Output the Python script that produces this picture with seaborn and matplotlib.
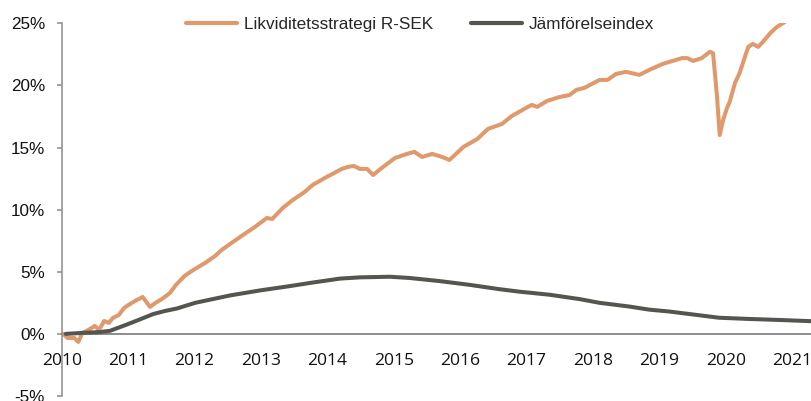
import matplotlib
matplotlib.use("Agg")
import matplotlib.pyplot as plt
import seaborn as sns
import pandas as pd
from matplotlib.ticker import FuncFormatter, FixedLocator

# ---- data (decimal years, percent) ----
fund_t = [2010.02, 2010.09, 2010.19, 2010.25, 2010.31, 2010.40, 2010.50, 2010.56, 2010.64, 2010.71,
          2010.77, 2010.86, 2010.94, 2011.03, 2011.13, 2011.22, 2011.33, 2011.41, 2011.51, 2011.63,
          2011.72, 2011.85, 2011.98, 2012.16, 2012.31, 2012.41, 2012.56, 2012.73, 2012.91, 2013.09,
          2013.17, 2013.33, 2013.48, 2013.66, 2013.78, 2013.99, 2014.22, 2014.31, 2014.40, 2014.49,
          2014.60, 2014.69, 2014.84, 2015.02, 2015.20, 2015.31, 2015.43, 2015.58, 2015.73, 2015.84,
          2016.05, 2016.26, 2016.42, 2016.63, 2016.78, 2017.02, 2017.08, 2017.16, 2017.31, 2017.50,
          2017.65, 2017.75, 2017.87, 2018.10, 2018.22, 2018.35, 2018.50, 2018.70, 2018.85, 2019.05,
          2019.20, 2019.34, 2019.42, 2019.51, 2019.64, 2019.76, 2019.81, 2019.87, 2019.91, 2019.96,
          2020.02, 2020.06, 2020.14, 2020.21, 2020.29, 2020.34, 2020.41, 2020.49, 2020.56, 2020.67,
          2020.77, 2020.86, 2020.97]
fund_v = [0.0, -0.33, -0.33, -0.65, 0.07, 0.31, 0.64, 0.31, 1.04, 0.88,
          1.28, 1.52, 2.09, 2.41, 2.73, 2.97, 2.17, 2.49, 2.81, 3.29,
          3.94, 4.66, 5.14, 5.71, 6.27, 6.76, 7.33, 7.96, 8.61, 9.33,
          9.25, 10.14, 10.78, 11.43, 11.99, 12.63, 13.28, 13.44, 13.52, 13.28,
          13.28, 12.79, 13.44, 14.16, 14.49, 14.65, 14.24, 14.49, 14.24, 14.00,
          15.05, 15.69, 16.50, 16.90, 17.54, 18.27, 18.43, 18.27, 18.75, 19.07,
          19.23, 19.64, 19.80, 20.44, 20.44, 20.93, 21.09, 20.85, 21.25, 21.73,
          21.97, 22.20, 22.20, 21.97, 22.20, 22.70, 22.60, 19.07, 16.00, 17.20,
          18.18, 18.67, 20.20, 21.00, 22.30, 23.10, 23.34, 23.10, 23.50, 24.20,
          24.70, 25.00, 25.40]

bench_t = [2010.06, 2010.28, 2010.58, 2010.73, 2010.98, 2011.10, 2011.38, 2011.56, 2011.74, 2012.01,
           2012.23, 2012.54, 2012.99, 2013.44, 2013.74, 2014.19, 2014.49, 2014.94, 2015.24, 2015.69,
           2016.14, 2016.59, 2016.89, 2017.35, 2017.80, 2018.10, 2018.55, 2018.85, 2019.15, 2019.60,
           2019.90, 2020.36, 2020.81, 2021.30]
bench_v = [0.0, 0.07, 0.15, 0.25, 0.75, 1.0, 1.6, 1.85, 2.05, 2.5,
           2.75, 3.1, 3.5, 3.85, 4.1, 4.45, 4.55, 4.6, 4.5, 4.25,
           3.95, 3.6, 3.4, 3.15, 2.8, 2.5, 2.2, 1.95, 1.8, 1.5,
           1.3, 1.2, 1.12, 1.02]

series_names = ["Likviditetsstrategi R-SEK", "Jämförelseindex"]
year_ticks = list(range(2010, 2022))
y_ticks = [-5, 0, 5, 10, 15, 20, 25]

df = pd.concat([
    pd.DataFrame({"t": fund_t, "v": fund_v, "s": series_names[0]}),
    pd.DataFrame({"t": bench_t, "v": bench_v, "s": series_names[1]}),
])

sns.set_style("white")
plt.rcParams["font.family"] = ["Liberation Sans", "DejaVu Sans"]

fig = plt.figure(figsize=(8.12, 4.01), dpi=100)
ax = fig.add_axes([61.7 / 812, 1 - 396 / 401, (812 - 61.7) / 812, (396 - 23.3) / 401])

palette = {series_names[0]: "#E0996B", series_names[1]: "#55554F"}
sns.lineplot(data=df, x="t", y="v", hue="s", palette=palette, linewidth=2.9,
             ax=ax, sort=False, estimator=None)
for ln in ax.get_lines():
    ln.set_solid_joinstyle("round")
    ln.set_solid_capstyle("round")

ax.set_xlim(2010, 2021.30)
ax.set_ylim(-5, 25)
ax.set_xlabel("")
ax.set_ylabel("")

for side in ["top", "right"]:
    ax.spines[side].set_visible(False)
ax.spines["left"].set_color("#8C8C8C")
ax.spines["left"].set_linewidth(1.1)
ax.spines["bottom"].set_color("#8C8C8C")
ax.spines["bottom"].set_linewidth(1.4)
ax.spines["bottom"].set_position(("data", 0))
ax.spines["bottom"].set_zorder(1)

ax.yaxis.set_major_locator(FixedLocator(y_ticks))
ax.yaxis.set_major_formatter(FuncFormatter(lambda v, p: f"{int(v)}%"))
ax.tick_params(axis="y", which="major", direction="out", length=3.6, width=1.1,
               color="#8C8C8C", pad=8.5, labelsize=12.3, left=True, labelcolor="#111111")

ax.xaxis.set_major_locator(FixedLocator(year_ticks))
ax.set_xticklabels([str(y) for y in year_ticks], fontfamily=["Open Sans", "DejaVu Sans"],
                   fontsize=12.6, color="#111111")
ax.tick_params(axis="x", length=0, pad=13.5)

handles, labels = ax.get_legend_handles_labels()
leg = ax.legend(handles, labels, loc="center", bbox_to_anchor=(0.4775, 0.997), ncol=2,
                frameon=False, fontsize=12.3, handlelength=3.0, handletextpad=0.4,
                columnspacing=2.2, borderaxespad=0)
for line in leg.get_lines():
    line.set_linewidth(3.0)
    line.set_solid_capstyle("round")

fig.savefig("out.png", dpi=100)
